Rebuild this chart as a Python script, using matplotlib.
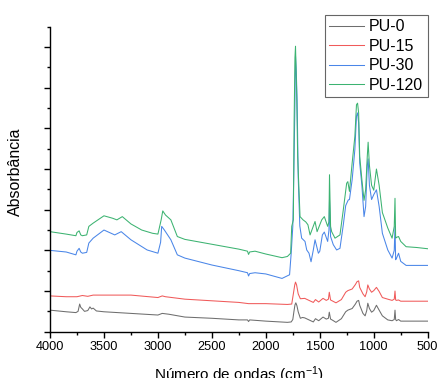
import matplotlib
matplotlib.use("Agg")
import matplotlib.pyplot as plt
import numpy as np

plt.rcParams['font.family'] = ['Liberation Sans', 'DejaVu Sans']
plt.rcParams['mathtext.fontset'] = 'custom'
plt.rcParams['mathtext.rm'] = 'Liberation Sans'
plt.rcParams['mathtext.default'] = 'regular'

# FTIR spectra (wavenumber in cm-1, absorbance in arbitrary offset units)
wn_pu0 = [4000, 3850, 3760, 3740, 3725, 3715, 3700, 3680, 3650, 3630, 3615, 3600, 3570,
          3500, 3250, 3000, 2960, 2900, 2750, 2500, 2250, 2170, 2160, 2150, 2000, 1800,
          1765, 1750, 1740, 1730, 1722, 1712, 1700, 1680, 1660, 1640, 1600, 1560, 1540,
          1510, 1470, 1440, 1420, 1412, 1400, 1380, 1350, 1300, 1260, 1240, 1200, 1170,
          1155, 1140, 1130, 1100, 1080, 1065, 1055, 1040, 1020, 1000, 975, 950, 920, 870,
          830, 810, 803, 797, 790, 770, 750, 600, 500]
ab_pu0 = [0.53, 0.49, 0.47, 0.50, 0.68, 0.60, 0.56, 0.50, 0.52, 0.61, 0.56, 0.58, 0.51,
          0.49, 0.45, 0.41, 0.45, 0.43, 0.36, 0.33, 0.29, 0.29, 0.25, 0.29, 0.26, 0.23,
          0.24, 0.30, 0.49, 0.66, 0.71, 0.64, 0.49, 0.33, 0.35, 0.34, 0.29, 0.24, 0.32,
          0.27, 0.36, 0.31, 0.33, 0.48, 0.31, 0.28, 0.23, 0.32, 0.49, 0.53, 0.57, 0.68,
          0.75, 0.77, 0.65, 0.45, 0.39, 0.52, 0.70, 0.57, 0.48, 0.52, 0.65, 0.53, 0.39,
          0.29, 0.27, 0.30, 0.53, 0.30, 0.27, 0.30, 0.26, 0.26, 0.26]

wn_pu15 = [4000, 3850, 3750, 3700, 3650, 3600, 3500, 3250, 3000, 2960, 2930, 2750,
           2500, 2250, 2160, 2000, 1800, 1760, 1745, 1732, 1725, 1715, 1700, 1680, 1640,
           1600, 1560, 1540, 1510, 1470, 1440, 1420, 1412, 1400, 1350, 1300, 1260, 1240,
           1200, 1170, 1155, 1140, 1130, 1100, 1080, 1065, 1055, 1040, 1020, 1000, 975,
           950, 920, 870, 830, 810, 803, 797, 790, 770, 750, 600, 500]
ab_pu15 = [0.88, 0.86, 0.86, 0.89, 0.87, 0.90, 0.90, 0.90, 0.84, 0.88, 0.86, 0.80,
           0.76, 0.72, 0.69, 0.69, 0.67, 0.68, 0.93, 1.15, 1.22, 1.15, 0.93, 0.81, 0.82,
           0.77, 0.72, 0.79, 0.73, 0.82, 0.77, 0.80, 0.97, 0.78, 0.71, 0.79, 0.97, 1.01,
           1.05, 1.16, 1.23, 1.25, 1.09, 0.93, 0.86, 0.98, 1.15, 1.05, 0.97, 1.01, 1.09,
           0.99, 0.84, 0.80, 0.77, 0.80, 1.00, 0.78, 0.77, 0.78, 0.75, 0.75, 0.75]

wn_pu30 = [4000, 3850, 3760, 3750, 3730, 3715, 3700, 3660, 3640, 3600, 3500, 3400,
           3340, 3250, 3100, 3000, 2975, 2965, 2940, 2880, 2820, 2750, 2500, 2250, 2170,
           2160, 2150, 2100, 2000, 1850, 1780, 1765, 1750, 1740, 1732, 1725, 1718, 1710,
           1700, 1685, 1668, 1637, 1621, 1600, 1581, 1560, 1544, 1513, 1500, 1476, 1458,
           1427, 1415, 1410, 1400, 1375, 1344, 1313, 1282, 1260, 1236, 1225, 1200, 1175,
           1160, 1150, 1140, 1130, 1110, 1090, 1075, 1060, 1052, 1040, 1020, 1000, 975,
           950, 920, 870, 830, 810, 803, 797, 790, 770, 750, 700, 600, 500]
ab_pu30 = [2.00, 1.96, 1.89, 1.98, 2.05, 1.96, 1.93, 1.95, 2.18, 2.30, 2.50, 2.38,
           2.46, 2.26, 2.01, 1.93, 2.20, 2.59, 2.50, 2.26, 1.89, 1.81, 1.64, 1.50, 1.45,
           1.37, 1.43, 1.45, 1.42, 1.31, 1.40, 1.93, 2.59, 4.00, 5.30, 6.77, 6.40, 5.70,
           3.80, 2.60, 2.30, 2.22, 2.01, 1.93, 1.72, 2.01, 2.26, 1.93, 1.98, 2.38, 2.45,
           2.22, 2.50, 3.24, 2.34, 2.14, 2.01, 2.05, 2.63, 3.10, 3.24, 3.25, 3.74, 4.48,
           5.30, 5.38, 5.14, 4.15, 3.60, 2.83, 3.08, 4.09, 4.25, 3.60, 3.25, 3.37, 3.49,
           3.08, 2.42, 2.01, 1.81, 2.00, 2.59, 1.77, 1.80, 1.93, 1.73, 1.63, 1.63, 1.63]

wn_pu120 = [4000, 3850, 3760, 3750, 3730, 3715, 3700, 3660, 3640, 3600, 3500, 3420,
            3380, 3330, 3250, 3150, 3050, 3000, 2970, 2955, 2930, 2880, 2820, 2750, 2500,
            2250, 2170, 2160, 2150, 2100, 2000, 1850, 1800, 1770, 1760, 1745, 1738, 1730,
            1725, 1715, 1705, 1683, 1655, 1630, 1610, 1590, 1544, 1525, 1482, 1458,
            1427, 1415, 1410, 1400, 1390, 1359, 1313, 1282, 1251, 1240, 1225, 1200, 1175,
            1160, 1150, 1140, 1130, 1110, 1090, 1075, 1060, 1052, 1040, 1020, 1000, 975,
            950, 920, 870, 830, 810, 803, 797, 790, 770, 750, 700, 600, 500]
ab_pu120 = [2.46, 2.40, 2.36, 2.44, 2.48, 2.38, 2.36, 2.38, 2.59, 2.67, 2.85, 2.79,
            2.75, 2.83, 2.65, 2.50, 2.42, 2.40, 2.75, 2.97, 2.87, 2.75, 2.34, 2.27, 2.15,
            2.03, 1.98, 1.90, 1.96, 1.98, 1.91, 1.82, 1.85, 1.93, 2.59, 2.75, 5.14, 6.74,
            7.02, 5.95, 4.31, 2.83, 2.75, 2.70, 2.63, 2.38, 2.71, 2.46, 2.75, 2.83,
            2.59, 2.70, 3.86, 2.59, 2.46, 2.30, 2.38, 3.00, 3.65, 3.69, 3.45, 4.15, 4.80,
            5.58, 5.62, 5.38, 4.31, 3.74, 3.23, 3.49, 4.31, 4.66, 4.09, 3.60, 3.48, 4.00,
            3.60, 2.93, 2.55, 2.30, 2.59, 3.28, 2.30, 2.32, 2.34, 2.22, 2.09, 2.07, 2.04]

series = [
    ("PU-0", wn_pu0, ab_pu0, "#6e6e6e"),
    ("PU-15", wn_pu15, ab_pu15, "#f05a5a"),
    ("PU-30", wn_pu30, ab_pu30, "#4a86e8"),
    ("PU-120", wn_pu120, ab_pu120, "#3cb371"),
]

fig = plt.figure(figsize=(4.38, 3.78), dpi=100)
ax = fig.add_axes([50 / 438, 1 - 331.7 / 378, 377.7 / 438, 305 / 378])

for name, wn, ab, color in series:
    ax.plot(wn, ab, color=color, lw=0.75, label=name)

ax.set_xlim(4000, 500)
ax.set_ylim(0, 7.5)
ax.set_xticks([4000, 3500, 3000, 2500, 2000, 1500, 1000, 500])
ax.set_xticks(np.arange(3750, 500, -500), minor=True)
ax.set_yticks(np.arange(0, 7.5, 1.0))
ax.set_yticks(np.arange(0.5, 7.6, 1.0), minor=True)
ax.set_yticklabels([])

for side in ("top", "right"):
    ax.spines[side].set_visible(False)
for side in ("left", "bottom"):
    ax.spines[side].set_linewidth(1.0)

ax.tick_params(axis="both", which="major", direction="out", length=4, width=1.0,
               labelsize=9.2, pad=3)
ax.tick_params(axis="both", which="minor", direction="out", length=2.5, width=1.0)

ax.set_xlabel("Número de ondas (cm$^{-1}$)", fontsize=11, labelpad=8)
ax.set_ylabel("Absorbância", fontsize=11.4)
ax.yaxis.set_label_coords(-0.0715, 0.524)

leg = fig.legend(loc="upper right", bbox_to_anchor=(427.7 / 438, 1 - 15 / 378),
                 bbox_transform=fig.transFigure, frameon=True, fancybox=False,
                 fontsize=11.5, handlelength=2.2, handletextpad=0.3, labelspacing=0.28,
                 borderpad=0.28, borderaxespad=0)
leg.get_frame().set_edgecolor("#404040")
leg.get_frame().set_linewidth(0.8)

fig.savefig("out.png", dpi=100)
